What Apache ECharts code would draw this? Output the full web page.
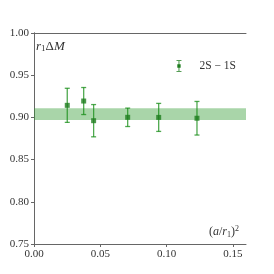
<!DOCTYPE html>
<html><head><meta charset="utf-8">
<script src="https://cdn.jsdelivr.net/npm/echarts@6/dist/echarts.min.js"></script>
<style>html,body{margin:0;padding:0;background:#fff}#c{width:274px;height:274px}</style>
</head><body><div id="c"></div>
<script>
var xVals = [0.0251, 0.0375, 0.0450, 0.0707, 0.0941, 0.1230];
var yVals = [0.9143, 0.9194, 0.8961, 0.9001, 0.9000, 0.8990];
var yErr  = [0.0202, 0.0160, 0.0191, 0.0109, 0.0166, 0.0199];
var bandLow = 0.8969, bandHigh = 0.9108;
var xTicks = [0.00, 0.05, 0.10, 0.15];
var yTicks = [0.75, 0.80, 0.85, 0.90, 0.95, 1.00];
var seriesName = '2S \u2212 1S';

var F = 'Liberation Serif';
var errColor = 'rgba(20,140,20,0.75)';
var ptColor = '#1e7d1e';
var pts = xVals.map(function(x,i){return [x,yVals[i],yErr[i]];});
var chart = echarts.init(document.getElementById('c'));
chart.setOption({
  animation:false,
  grid:{left:34,top:33,right:28,bottom:30,show:false},
  xAxis:[{type:'value',min:0,max:0.16,interval:0.05,position:'bottom',
    axisLine:{show:true,onZero:false,lineStyle:{color:'#666',width:1}},
    axisTick:{show:true,length:3,lineStyle:{color:'#666'}},
    splitLine:{show:false},
    axisLabel:{fontFamily:F,fontSize:11,color:'#333',margin:5,
      formatter:function(v){return v.toFixed(2);},showMaxLabel:false}},
    {type:'value',min:0,max:0.16,position:'top',axisLine:{show:true,lineStyle:{color:'#666'}},axisTick:{show:false},axisLabel:{show:false},splitLine:{show:false}}],
  yAxis:[{type:'value',min:0.75,max:1.0,interval:0.05,
    axisLine:{show:true,onZero:false,lineStyle:{color:'#666',width:1}},
    axisTick:{show:true,length:3,lineStyle:{color:'#666'}},
    splitLine:{show:false},
    axisLabel:{fontFamily:F,fontSize:11,color:'#333',margin:5,
      formatter:function(v){return v.toFixed(2);}}},
    {type:'value',min:0.75,max:1.0,position:'right',axisLine:{show:true,lineStyle:{color:'#666'}},axisTick:{show:false},axisLabel:{show:false},splitLine:{show:false}}],
  legend:{right:33,top:55,orient:'vertical',
    icon:'path://M0,0H6V1H0Z M2.5,0H3.5V14H2.5Z M0,13H6V14H0Z M1,5H5V9H1Z',
    itemWidth:5,itemHeight:12,itemGap:4,
    textStyle:{fontFamily:F,fontSize:11.5,color:'#333',padding:[0,0,0,13]},
    data:[{name:seriesName,itemStyle:{color:ptColor}}]},
  graphic:[
    {type:'text',left:36,top:40,style:{rich:{i:{fontFamily:F,fontStyle:'italic',fontSize:13,fill:'#333'},s:{fontFamily:F,fontSize:9,fill:'#333',padding:[5,0,0,0]},n:{fontFamily:F,fontSize:13,fill:'#333'}},
      text:'{i|r}{s|1}{n|\u0394}{i|M}'}},
    {type:'text',right:35,top:225,style:{rich:{n:{fontFamily:F,fontSize:12,fill:'#333'},i:{fontFamily:F,fontStyle:'italic',fontSize:12,fill:'#333'},s:{fontFamily:F,fontSize:8,fill:'#333',padding:[5,0,0,0]},p:{fontFamily:F,fontSize:8,fill:'#333',padding:[0,0,6,0]}},
      text:'{n|(}{i|a}{n|/}{i|r}{s|1}{n|)}{p|2}'}}
  ],
  series:[
    {type:'line',data:[],markArea:{silent:true,itemStyle:{color:'rgba(40,150,40,0.4)'},
      data:[[{yAxis:bandLow},{yAxis:bandHigh}]]}},
    {type:'custom',name:seriesName,data:pts,z:3,
      renderItem:function(params,api){
        var x=api.value(0),y=api.value(1),e=api.value(2);
        var p=api.coord([x,y]),t=api.coord([x,y+e]),b=api.coord([x,y-e]);
        var st={stroke:errColor,lineWidth:1.3};
        return {type:'group',children:[
          {type:'line',shape:{x1:p[0],y1:t[1],x2:p[0],y2:b[1]},style:st},
          {type:'line',shape:{x1:p[0]-2.5,y1:t[1],x2:p[0]+2.5,y2:t[1]},style:st},
          {type:'line',shape:{x1:p[0]-2.5,y1:b[1],x2:p[0]+2.5,y2:b[1]},style:st}
        ]};
      },itemStyle:{color:ptColor}},
    {type:'scatter',data:pts.map(function(d){return [d[0],d[1]];}),symbol:'rect',symbolSize:5,z:4,
      itemStyle:{color:ptColor}}
  ]
});
</script></body></html>
